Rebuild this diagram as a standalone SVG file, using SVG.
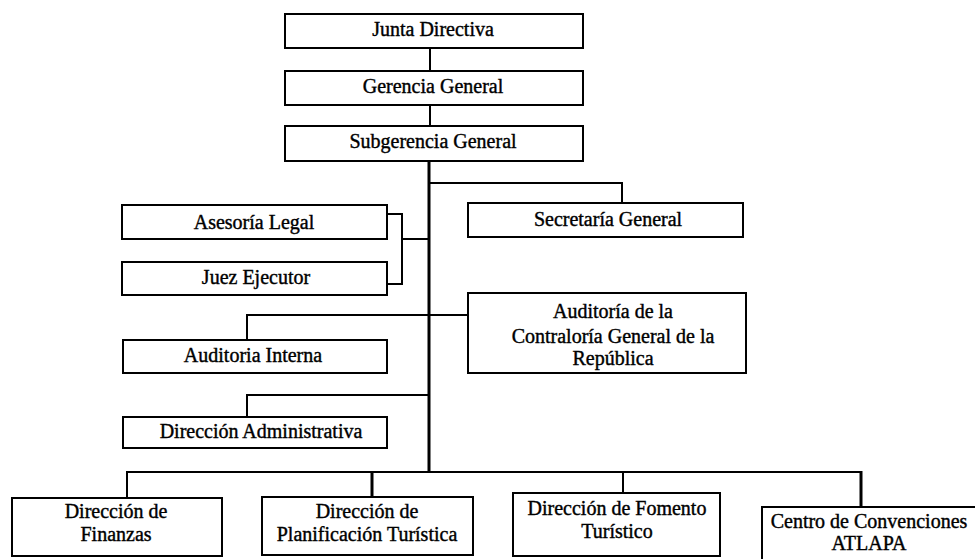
<svg xmlns="http://www.w3.org/2000/svg" width="975" height="559" viewBox="0 0 975 559">
<style>
.box{fill:#fff;stroke:#000;stroke-width:2}
.t{font-family:"Liberation Serif","Times New Roman",serif;font-size:20px;fill:#000;stroke:#000;stroke-width:0.4;text-anchor:middle}
.c{fill:none;stroke:#000;stroke-width:2}
.m{fill:none;stroke:#000;stroke-width:3}
</style>
<rect width="975" height="559" fill="#fff"/>
<g id="connectors">
<line class="c" x1="430" y1="48" x2="430" y2="71"/>
<line class="c" x1="430" y1="105" x2="430" y2="126"/>
<line class="m" x1="429" y1="161" x2="429" y2="472"/>
<polyline class="c" points="429,183 622,183 622,203"/>
<polyline class="c" points="387,214 402,214 402,284 387,284"/>
<line class="c" x1="402" y1="239" x2="429" y2="239"/>
<polyline class="c" points="247,340 247,315 468,315"/>
<polyline class="c" points="247,417 247,395 429,395"/>
<line class="c" x1="127" y1="472" x2="861" y2="472"/>
<line class="c" x1="127" y1="471" x2="127" y2="498"/>
<line class="m" x1="372" y1="471" x2="372" y2="497"/>
<line class="c" x1="623" y1="471" x2="623" y2="493"/>
<line class="m" x1="861" y1="471" x2="861" y2="507"/>
</g>
<g id="junta"><rect class="box" x="285" y="14" width="298" height="34"/><text class="t" x="433" y="36">Junta Directiva</text></g>
<g id="gerencia"><rect class="box" x="285" y="71" width="298" height="34"/><text class="t" x="433" y="93">Gerencia General</text></g>
<g id="subgerencia"><rect class="box" x="285" y="126" width="298" height="35"/><text class="t" x="433" y="148">Subgerencia General</text></g>
<g id="asesoria"><rect class="box" x="122" y="205" width="265" height="34"/><text class="t" x="254" y="229">Asesoría Legal</text></g>
<g id="juez"><rect class="box" x="122" y="262" width="265" height="33"/><text class="t" x="256" y="284">Juez Ejecutor</text></g>
<g id="secretaria"><rect class="box" x="468" y="203" width="275" height="34"/><text class="t" x="608" y="226">Secretaría General</text></g>
<g id="contraloria"><rect class="box" x="468" y="293" width="278" height="80"/><text class="t" x="613" y="318">Auditoría de la</text><text class="t" x="613" y="343">Contraloría General de la</text><text class="t" x="613" y="365">República</text></g>
<g id="auditoria-interna"><rect class="box" x="123" y="340" width="264" height="33"/><text class="t" x="253" y="362">Auditoria Interna</text></g>
<g id="direccion-administrativa"><rect class="box" x="123" y="417" width="264" height="31"/><text class="t" x="261" y="438">Dirección Administrativa</text></g>
<g id="finanzas"><rect class="box" x="12" y="498" width="210" height="58"/><text class="t" x="116" y="518">Dirección de</text><text class="t" x="116" y="541">Finanzas</text></g>
<g id="planificacion"><rect class="box" x="262" y="497" width="211" height="58"/><text class="t" x="367" y="518">Dirección de</text><text class="t" x="367" y="541">Planificación Turística</text></g>
<g id="fomento"><rect class="box" x="513" y="493" width="207" height="63"/><text class="t" x="617" y="515">Dirección de Fomento</text><text class="t" x="617" y="538">Turístico</text></g>
<g id="atlapa"><rect class="box" x="762" y="507" width="214" height="55"/><text class="t" x="869" y="528">Centro de Convenciones</text><text class="t" x="869" y="550">ATLAPA</text></g>
</svg>
